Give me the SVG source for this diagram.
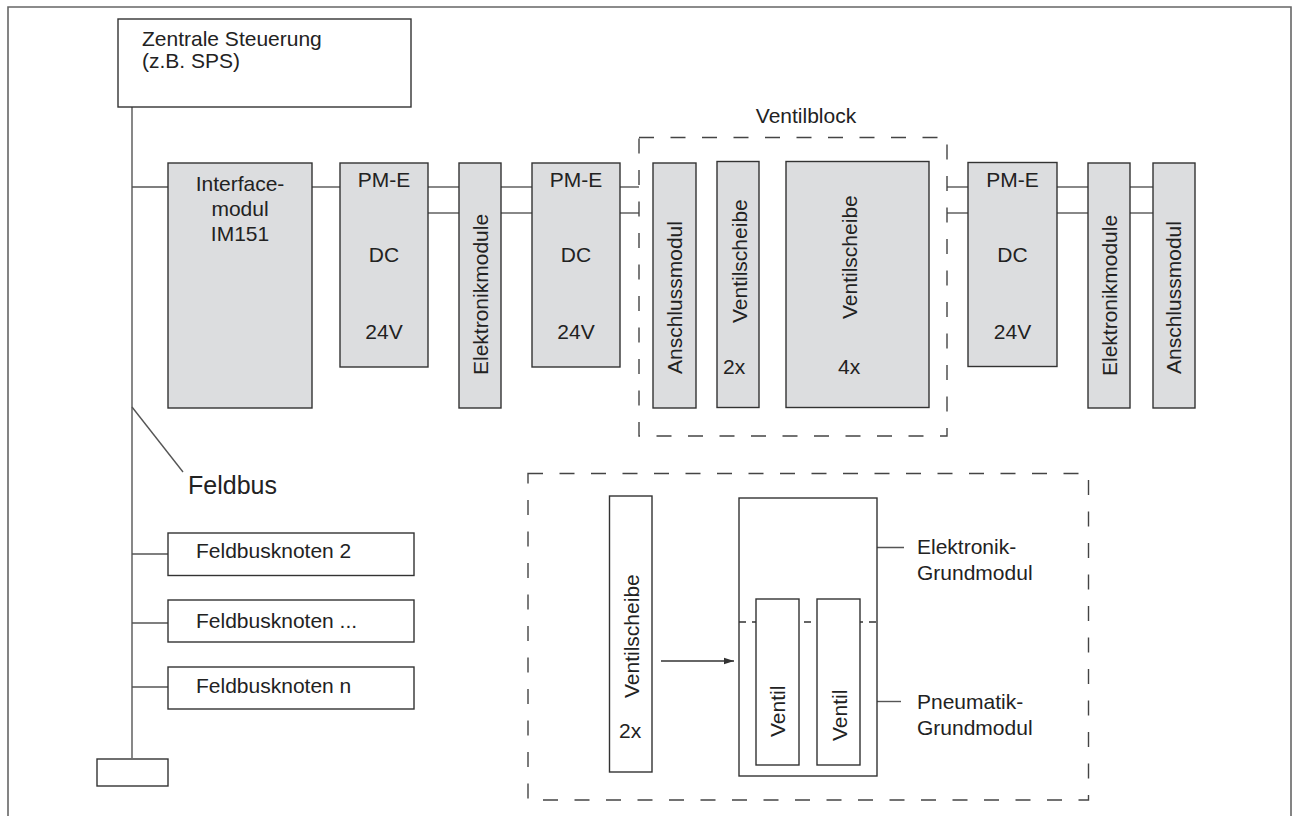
<svg xmlns="http://www.w3.org/2000/svg" width="1292" height="816" viewBox="0 0 1292 816">
  <style>
    text { font-family: "Liberation Sans", Arial, sans-serif; font-size: 21px; fill: #222; }
    .box { fill: #fff; stroke: #333; stroke-width: 1.4; }
    .mod { fill: #dcdddf; stroke: #333; stroke-width: 1.4; }
    .wire { fill: none; stroke: #555; stroke-width: 1.4; }
    .group { fill: none; stroke: #444; stroke-width: 1.4; stroke-dasharray: 15 16.5; }
    .split { fill: none; stroke: #333; stroke-width: 1.3; stroke-dasharray: 7 6; }
    .mid { text-anchor: middle; }
  </style>
  <defs>
    <marker id="arrow" markerWidth="10" markerHeight="8" refX="10" refY="4" orient="auto" markerUnits="userSpaceOnUse">
      <path d="M0,0.8 L10,4 L0,7.2 Z" fill="#333"/>
    </marker>
  </defs>

  <rect width="1292" height="816" fill="#fff"/>

  <!-- outer frame (open at the bottom) -->
  <path d="M8,816 V7 H1291 V816" fill="none" stroke="#666" stroke-width="1.6"/>

  <!-- connectors -->
  <g id="connectors">
    <!-- fieldbus trunk -->
    <line class="wire" x1="132" y1="107" x2="132" y2="758"/>
    <line class="wire" x1="132" y1="187" x2="168" y2="187"/>
    <line class="wire" x1="132" y1="554" x2="168" y2="554"/>
    <line class="wire" x1="132" y1="623" x2="168" y2="623"/>
    <line class="wire" x1="132" y1="687" x2="168" y2="687"/>
    <!-- Feldbus leader -->
    <line class="wire" x1="132" y1="407" x2="183" y2="472"/>
    <!-- module chain -->
    <line class="wire" x1="312" y1="187" x2="340" y2="187"/>
    <line class="wire" x1="428" y1="187" x2="459" y2="187"/>
    <line class="wire" x1="428" y1="213" x2="459" y2="213"/>
    <line class="wire" x1="501" y1="187" x2="532" y2="187"/>
    <line class="wire" x1="501" y1="213" x2="532" y2="213"/>
    <line class="wire" x1="620" y1="187" x2="639" y2="187"/>
    <line class="wire" x1="620" y1="213" x2="639" y2="213"/>
    <line class="wire" x1="947" y1="187" x2="968" y2="187"/>
    <line class="wire" x1="947" y1="213" x2="968" y2="213"/>
    <line class="wire" x1="1057" y1="187" x2="1088" y2="187"/>
    <line class="wire" x1="1057" y1="213" x2="1088" y2="213"/>
    <line class="wire" x1="1130" y1="187" x2="1153" y2="187"/>
    <line class="wire" x1="1130" y1="213" x2="1153" y2="213"/>
    <!-- detail view arrow -->
    <line x1="661" y1="661" x2="734" y2="661" stroke="#333" stroke-width="1.4" marker-end="url(#arrow)"/>
    <!-- detail view leaders -->
    <line class="wire" x1="855" y1="547.5" x2="904" y2="547.5"/>
    <line class="wire" x1="877" y1="701.5" x2="901" y2="701.5"/>
  </g>

  <g id="zentrale-steuerung">
    <rect class="box" x="118" y="19" width="293" height="88"/>
    <text x="142" y="46">Zentrale Steuerung</text>
    <text x="142" y="68">(z.B. SPS)</text>
  </g>

  <g id="interfacemodul">
    <rect class="mod" x="168" y="163" width="144" height="245"/>
    <text class="mid" x="240" y="191">Interface-</text>
    <text class="mid" x="240" y="216">modul</text>
    <text class="mid" x="240" y="241">IM151</text>
  </g>

  <g id="pm-e-1">
    <rect class="mod" x="340" y="163" width="88" height="204"/>
    <text class="mid" x="384" y="187">PM-E</text>
    <text class="mid" x="384" y="262">DC</text>
    <text class="mid" x="384" y="339">24V</text>
  </g>

  <g id="elektronikmodule-1">
    <rect class="mod" x="459" y="163" width="42" height="245"/>
    <text transform="translate(488,375) rotate(-90)">Elektronikmodule</text>
  </g>

  <g id="pm-e-2">
    <rect class="mod" x="532" y="163" width="88" height="204"/>
    <text class="mid" x="576" y="187">PM-E</text>
    <text class="mid" x="576" y="262">DC</text>
    <text class="mid" x="576" y="339">24V</text>
  </g>

  <g id="ventilblock">
    <rect class="group" x="639" y="137.5" width="308" height="298.5"/>
    <text class="mid" x="806" y="123">Ventilblock</text>
  </g>

  <g id="anschlussmodul-1">
    <rect class="mod" x="653" y="163" width="43" height="245"/>
    <text transform="translate(682,374) rotate(-90)">Anschlussmodul</text>
  </g>

  <g id="ventilscheibe-2x">
    <rect class="mod" x="717" y="161.5" width="42" height="246"/>
    <text transform="translate(747,323) rotate(-90)">Ventilscheibe</text>
    <text x="723" y="374">2x</text>
  </g>

  <g id="ventilscheibe-4x">
    <rect class="mod" x="786" y="161.5" width="143" height="246"/>
    <text transform="translate(857,319) rotate(-90)">Ventilscheibe</text>
    <text x="838" y="374">4x</text>
  </g>

  <g id="pm-e-3">
    <rect class="mod" x="968" y="162.5" width="89" height="204"/>
    <text class="mid" x="1012.5" y="187">PM-E</text>
    <text class="mid" x="1012.5" y="262">DC</text>
    <text class="mid" x="1012.5" y="339">24V</text>
  </g>

  <g id="elektronikmodule-2">
    <rect class="mod" x="1088" y="163" width="42" height="245"/>
    <text transform="translate(1117,376) rotate(-90)">Elektronikmodule</text>
  </g>

  <g id="anschlussmodul-2">
    <rect class="mod" x="1153" y="163" width="42" height="245"/>
    <text transform="translate(1181,374) rotate(-90)">Anschlussmodul</text>
  </g>

  <g id="feldbus-label">
    <text x="188" y="494" style="font-size:25px">Feldbus</text>
  </g>

  <g id="feldbusknoten-2">
    <rect class="box" x="168" y="533" width="246" height="42.5"/>
    <text x="196" y="558">Feldbusknoten 2</text>
  </g>

  <g id="feldbusknoten-dots">
    <rect class="box" x="168" y="600" width="246" height="42"/>
    <text x="196" y="628">Feldbusknoten ...</text>
  </g>

  <g id="feldbusknoten-n">
    <rect class="box" x="168" y="667" width="246" height="42"/>
    <text x="196" y="693">Feldbusknoten n</text>
  </g>

  <g id="bus-abschluss">
    <rect class="box" x="97" y="759" width="71" height="27"/>
  </g>

  <!-- detail view of a valve slice -->
  <g id="detail">
    <rect class="group" x="528" y="473.5" width="560.5" height="326.5"/>
  </g>

  <g id="detail-ventilscheibe">
    <rect class="box" x="609.5" y="496" width="42.5" height="276"/>
    <text transform="translate(639,698) rotate(-90)">Ventilscheibe</text>
    <text x="619" y="738">2x</text>
  </g>

  <g id="grundmodul">
    <rect class="box" x="739" y="498" width="138" height="278"/>
    <line class="split" x1="739" y1="622" x2="877" y2="622"/>
    <text x="917" y="554">Elektronik-</text>
    <text x="917" y="580">Grundmodul</text>
    <text x="917" y="709">Pneumatik-</text>
    <text x="917" y="735">Grundmodul</text>
  </g>

  <g id="ventil-1">
    <rect class="box" x="756" y="599" width="43" height="166"/>
    <text transform="translate(785,737) rotate(-90)">Ventil</text>
  </g>

  <g id="ventil-2">
    <rect class="box" x="817" y="599" width="43" height="166"/>
    <text transform="translate(847,741) rotate(-90)">Ventil</text>
  </g>
</svg>
